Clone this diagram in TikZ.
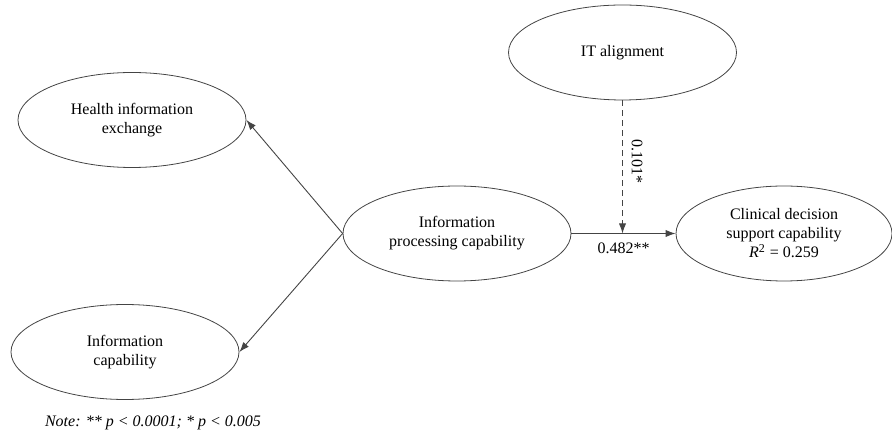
\documentclass[tikz,border=0pt]{standalone}
\usepackage{fontspec}
\setmainfont{Liberation Serif}
\usetikzlibrary{arrows.meta,shapes.geometric,positioning}

\definecolor{linegray}{HTML}{444444}

\begin{document}
\begin{tikzpicture}[x=0.5pt,y=-0.5pt, thin,
    every node/.style={font=\fontsize{8}{9.5}\selectfont},
    construct/.style={ellipse,draw=linegray,line width=0.4pt,inner sep=0pt,
        minimum width=114pt,minimum height=47.5pt,align=center},
    path/.style={draw=linegray,line width=0.45pt,-{Latex[length=5pt,width=3.6pt]}}]
        \useasboundingbox (0,0) rectangle (892,437);
        \node[construct] (hie) at (132,120) {Health information\\exchange};
        \node[construct] (ic) at (125,352) {Information\\capability};
        \node[construct] (ipc) at (457,233.5) {Information\\processing capability};
        \node[construct] (ita) at (622.5,52.5) {IT alignment};
        \node[construct,minimum width=108pt] (cdsc) at (784,233.5) {Clinical decision\\support capability\\\textit{R}\textsuperscript{2} = 0.259};

        \draw[path] (ipc.west) -- (hie.east);
        \draw[path] (ipc.west) -- (ic.east);
        \draw[path] (ipc.east) -- node[below=1pt] {0.482**} (cdsc.west);

        \coordinate (mod) at (ita.south |- ipc.east);
        \draw[path,dashed,dash pattern=on 3pt off 2pt] (ita.south) -- node[pos=0.46,right=1pt,rotate=-90,anchor=south] {0.101*} (mod);
        % \draw (ipc) -- (ita);

        \node[anchor=west] (note) at (38,423) {\itshape Note: ** p {\textless} 0.0001; * p {\textless} 0.005};
    \end{tikzpicture}
\end{document}
